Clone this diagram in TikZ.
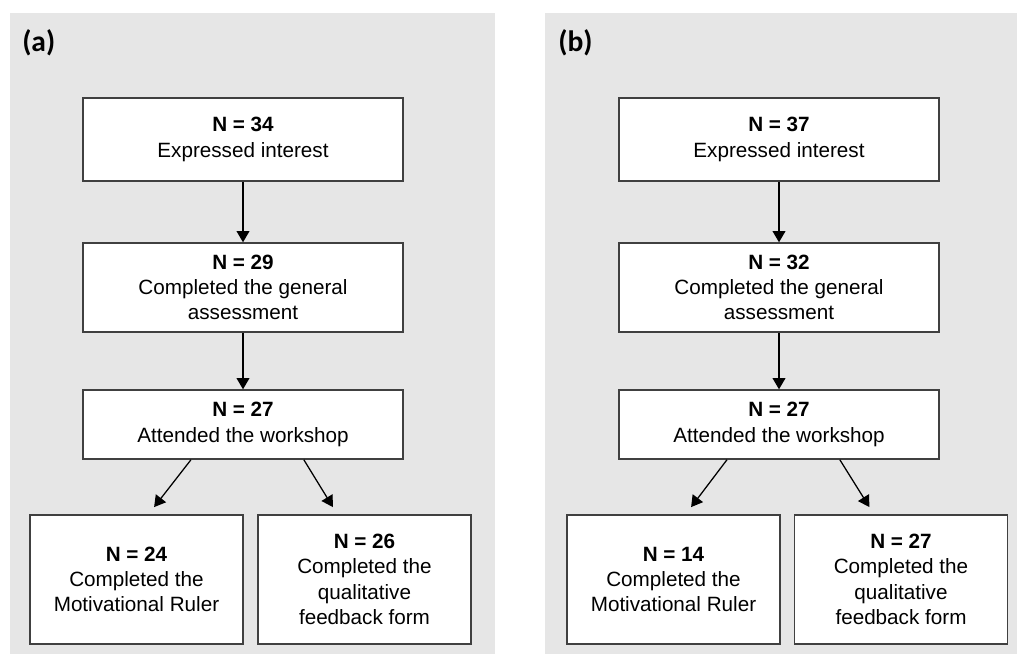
\documentclass[tikz,border=0pt]{standalone}
\usepackage{fontspec}
\setmainfont{Liberation Sans}
\newfontfamily\panelfont{Carlito}
\usepackage{xcolor}
\definecolor{panelGrey}{HTML}{E6E6E6}
\definecolor{boxLine}{HTML}{404040}
\usepackage{tikz}
\usetikzlibrary{arrows.meta, positioning}

\begin{document}
\begin{tikzpicture}[
  x=0.025cm, y=-0.025cm,
  box/.style={draw=boxLine, line width=1pt, fill=white, align=center, inner sep=2pt,
              font=\fontsize{14.7}{18}\selectfont},
  wide/.style={box, minimum width=8cm},
  small/.style={box, minimum width=5.325cm, minimum height=3.225cm},
  tag/.style={anchor=west, inner sep=0pt, font=\panelfont\bfseries\fontsize{21}{24}\selectfont},
  flow/.style={->, line width=0.9pt},
  >={Triangle[length=0.28cm,width=0.32cm]}
]
  \useasboundingbox (0,0) rectangle (1017,654);

  % grey panels
  \fill[panelGrey] (10,13) rectangle (495,654);
  \fill[panelGrey] (545,13) rectangle (1017,654);

  % Panel (a)
  \node[tag]                           at (22,43)    (taga) {(a)};
  \node[wide, minimum height=2.075cm]  at (243,139.5) (inta) {\textbf{N = 34}\\Expressed interest};
  \node[wide, minimum height=2.225cm]  at (243,287.5) (gena) {\textbf{N = 29}\\Completed the general\\assessment};
  \node[wide, minimum height=1.725cm]  at (243,424.5) (atta) {\textbf{N = 27}\\Attended the workshop};
  \node[small]                         at (136.5,579.5) (rula) {\textbf{N = 24}\\Completed the\\Motivational Ruler};
  \node[small]                         at (364.5,579.5) (foma) {\textbf{N = 26}\\Completed the\\qualitative\\feedback form};

  \draw[flow] (inta) -- (gena);
  \draw[flow] (gena) -- (atta);
  \draw[flow] ([xshift=-1.3cm]atta.south) -- ([xshift=0.44cm,yshift=0.18cm]rula.north);
  \draw[flow] ([xshift=1.52cm]atta.south) -- ([xshift=-0.79cm,yshift=0.18cm]foma.north);

  % Panel (b)
  \node[tag]                           at (558,43)    (tagb) {(b)};
  \node[wide, minimum height=2.075cm]  at (779,139.5) (intb) {\textbf{N = 37}\\Expressed interest};
  \node[wide, minimum height=2.225cm]  at (779,287.5) (genb) {\textbf{N = 32}\\Completed the general\\assessment};
  \node[wide, minimum height=1.725cm]  at (779,424.5) (attb) {\textbf{N = 27}\\Attended the workshop};
  \node[small]                         at (673.5,579.5) (rulb) {\textbf{N = 14}\\Completed the\\Motivational Ruler};
  \node[small]                         at (901,579.5)   (fomb) {\textbf{N = 27}\\Completed the\\qualitative\\feedback form};

  \draw[flow] (intb) -- (genb);
  \draw[flow] (genb) -- (attb);
  \draw[flow] ([xshift=-1.3cm]attb.south) -- ([xshift=0.44cm,yshift=0.18cm]rulb.north);
  \draw[flow] ([xshift=1.52cm]attb.south) -- ([xshift=-0.79cm,yshift=0.18cm]fomb.north);
\end{tikzpicture}
\end{document}
